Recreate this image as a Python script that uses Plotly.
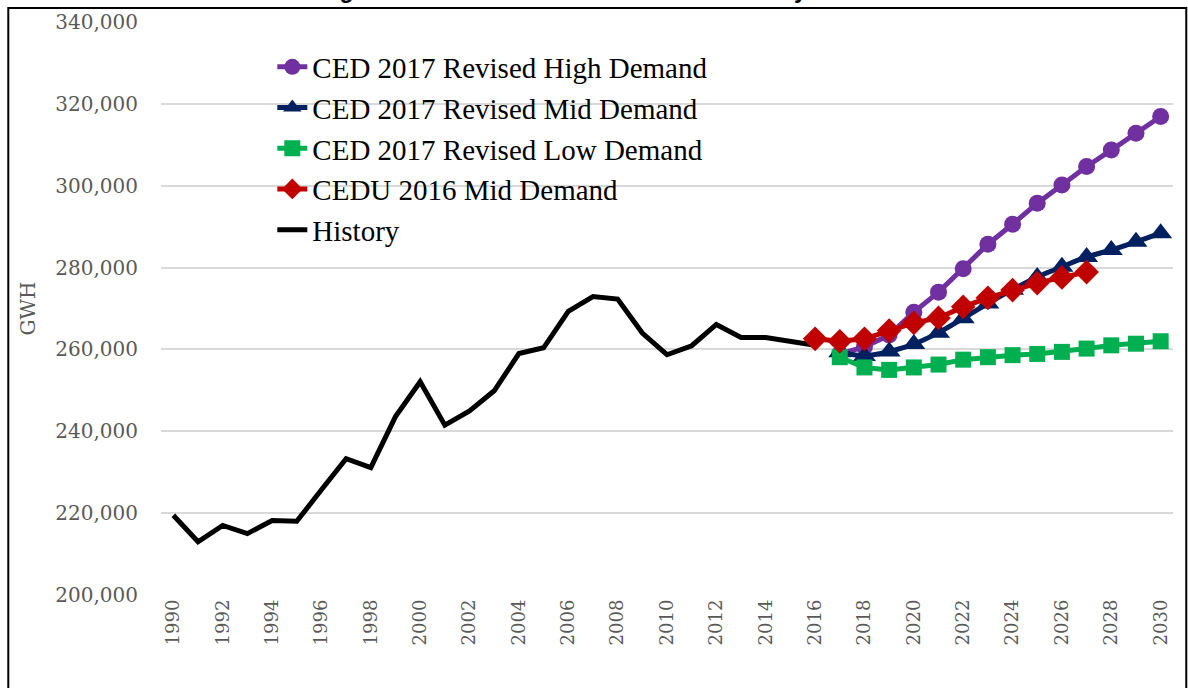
import plotly.graph_objects as go

# history (GWH)
hist_years = list(range(1990, 2017))
hist_gwh = [219500, 213000, 217000, 215000, 218200, 218000, 225700, 233300, 231100, 243600,
            252100, 241500, 245000, 249900, 259000, 260400, 269300, 272900, 272300, 264000,
            258700, 260900, 266100, 262900, 262900, 261900, 261000]

fc_years = list(range(2017, 2031))
high_gwh = [258900, 260600, 263500, 269100, 274000, 279700, 285700, 290600, 295700, 300200,
            304700, 308700, 312800, 316900]
mid_gwh = [259300, 258400, 259500, 261300, 264100, 267600, 271200, 274600, 277700, 280200,
           282600, 284300, 286300, 288400]
low_gwh = [258100, 255600, 255000, 255600, 256300, 257500, 258100, 258600, 258900, 259400,
           260200, 261000, 261400, 262000]

cedu_years = list(range(2016, 2028))
cedu_gwh = [262600, 262000, 262600, 264600, 266500, 267700, 270400, 272600, 274500, 276200,
            277600, 278900]

tick_years = list(range(1990, 2031, 2))

PURPLE = "#7030A0"
NAVY = "#002060"
GREEN = "#00B050"
RED = "#C00000"

fig = go.Figure()
fig.add_trace(go.Scatter(x=hist_years, y=hist_gwh, name="History", mode="lines",
                         line=dict(color="black", width=5), legendrank=5))
fig.add_trace(go.Scatter(x=fc_years, y=high_gwh, name="CED 2017 Revised High Demand",
                         mode="lines+markers", line=dict(color=PURPLE, width=5),
                         marker=dict(symbol="circle", size=17, color=PURPLE), legendrank=1))
fig.add_trace(go.Scatter(x=fc_years, y=mid_gwh, name="CED 2017 Revised Mid Demand",
                         mode="lines+markers", line=dict(color=NAVY, width=5, shape="spline", smoothing=0.6),
                         marker=dict(symbol="triangle-up", size=20, color=NAVY), legendrank=2))
fig.add_trace(go.Scatter(x=fc_years, y=low_gwh, name="CED 2017 Revised Low Demand",
                         mode="lines+markers", line=dict(color=GREEN, width=5),
                         marker=dict(symbol="square", size=16, color=GREEN), legendrank=3))
fig.add_trace(go.Scatter(x=cedu_years, y=cedu_gwh, name="CEDU 2016 Mid Demand",
                         mode="lines+markers", line=dict(color=RED, width=5),
                         marker=dict(symbol="diamond", size=19, color=RED), legendrank=4))

# chart frame (top/left edge visible, rest runs off the picture)
fig.add_shape(type="rect", xref="paper", yref="paper", x0=-0.1509, x1=1.0131, y0=-0.2, y1=1.0244,
              line=dict(color="black", width=2), layer="below")

# caption cut off by the top of the picture
fig.add_annotation(text="Figure 3: Statewide Baseline Total Electricity Sales", xref="paper", yref="paper",
                   x=0.43, y=1.030, xanchor="center", yanchor="bottom", showarrow=False,
                   font=dict(family="Liberation Sans", size=23, color="black", weight="bold"))

fig.update_xaxes(range=[1989.5, 2030.5], tickvals=tick_years, tickangle=-90, showgrid=False,
                 zeroline=False, showline=False, ticks="", automargin=False,
                 tickfont=dict(family="DejaVu Serif", size=18, color="#595959"))
fig.update_yaxes(range=[200000, 340000], dtick=20000, tickformat=",", showgrid=True,
                 gridcolor="#D9D9D9", gridwidth=2, zeroline=False, showline=False,
                 ticklabelstandoff=22, automargin=False,
                 tickfont=dict(family="DejaVu Serif", size=20, color="#595959"),
                 title=dict(text="GWH", font=dict(family="DejaVu Serif", size=20, color="#595959"),
                            standoff=14))

fig.update_layout(width=1188, height=688, plot_bgcolor="white", paper_bgcolor="white",
                  margin=dict(l=161, r=15, t=22, b=93),
                  legend=dict(x=0.11, y=0.966, xanchor="left", yanchor="top",
                              bgcolor="rgba(0,0,0,0)", tracegroupgap=0,
                              font=dict(family="Liberation Serif", size=29, color="black")),
                  showlegend=True)

# figure sits flush with the page corner
fig.write_html("out.html", config={"displayModeBar": False},
               post_script="document.body.style.margin='0';")
